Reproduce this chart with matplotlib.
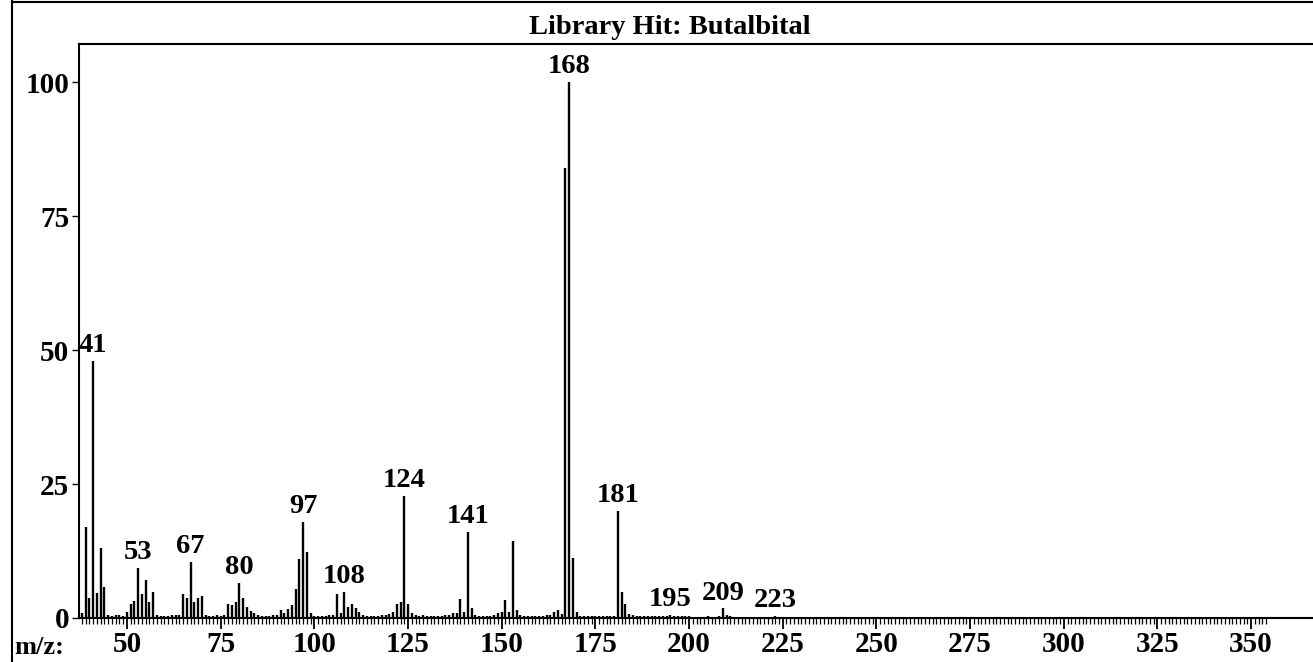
import matplotlib
matplotlib.use("Agg")
import matplotlib.pyplot as plt
from matplotlib.ticker import FixedLocator
from matplotlib.lines import Line2D

title = "Library Hit: Butalbital"
x_label = "m/z:"

mz = [38, 39, 40, 41, 42, 43, 44, 45, 46, 47, 48, 49,
      50, 51, 52, 53, 54, 55, 56, 57, 58, 59, 60, 61, 62, 63, 64,
      65, 66, 67, 68, 69, 70, 71, 72, 73, 74, 75, 76,
      77, 78, 79, 80, 81, 82, 83, 84, 85, 86, 87, 88, 89, 90,
      91, 92, 93, 94, 95, 96, 97, 98, 99, 100, 101, 102, 103, 104, 105,
      106, 107, 108, 109, 110, 111, 112, 113, 114, 115, 116, 117, 118, 119,
      120, 121, 122, 123, 124, 125, 126, 127, 128, 129, 130, 131, 132, 133,
      134, 135, 136, 137, 138, 139, 140, 141, 142, 143, 144, 145, 146, 147,
      148, 149, 150, 151, 152, 153, 154, 155, 156, 157, 158, 159, 160, 161,
      162, 163, 164, 165, 166, 167, 168, 169, 170, 171, 172, 173, 174, 175,
      176, 177, 178, 179, 180, 181, 182, 183, 184, 185, 186, 187, 188, 189,
      190, 191, 192, 193, 194, 195, 196, 197, 198, 199, 200, 205, 208, 209,
      210, 211, 223]
intensity = [1.0, 17.0, 3.7, 48.0, 4.6, 13.0, 5.8, 0.6, 0.4, 0.5, 0.5, 0.4,
             1.1, 2.6, 3.2, 9.3, 4.5, 7.0, 3.0, 4.8, 0.6, 0.4, 0.3, 0.4, 0.5, 0.6, 0.5,
             4.4, 3.7, 10.4, 3.0, 3.7, 4.1, 0.6, 0.4, 0.3, 0.5, 0.4, 0.6,
             2.6, 2.4, 3.0, 6.5, 3.7, 2.1, 1.3, 1.0, 0.6, 0.4, 0.3, 0.4, 0.5, 0.5,
             1.5, 1.0, 1.6, 2.4, 5.4, 11.0, 18.0, 12.4, 1.0, 0.4, 0.3, 0.3, 0.4, 0.5, 0.6,
             4.4, 1.0, 4.8, 2.1, 2.7, 1.8, 1.2, 0.5, 0.4, 0.4, 0.3, 0.4, 0.5, 0.6,
             0.8, 1.1, 2.7, 3.0, 22.8, 2.7, 0.9, 0.5, 0.4, 0.6, 0.4, 0.3, 0.3, 0.4,
             0.4, 0.5, 0.6, 1.0, 1.0, 3.5, 1.2, 16.1, 1.8, 0.5, 0.4, 0.3, 0.3, 0.4,
             0.6, 1.0, 1.2, 3.4, 1.2, 14.4, 1.4, 0.6, 0.4, 0.3, 0.3, 0.4, 0.3, 0.4,
             0.6, 0.5, 1.2, 1.5, 0.8, 84.0, 100.0, 11.2, 1.2, 0.4, 0.3, 0.3, 0.4, 0.3,
             0.3, 0.4, 0.3, 0.3, 0.4, 20.0, 4.8, 2.7, 0.8, 0.5, 0.3, 0.3, 0.4, 0.3,
             0.3, 0.3, 0.4, 0.3, 0.3, 0.6, 0.3, 0.3, 0.3, 0.3, 0.3, 0.3, 0.4, 1.8,
             0.5, 0.3, 0.4]
labeled_peaks = [41, 53, 67, 80, 97, 108, 124, 141, 168, 181, 195, 209, 223]
x_ticks = [50, 75, 100, 125, 150, 175, 200, 225, 250, 275, 300, 325, 350]
y_ticks = [0, 25, 50, 75, 100]

W, H = 1313, 662
font = dict(family="Liberation Serif", weight="bold")

fig = plt.figure(figsize=(W / 100, H / 100), dpi=100)
ax = fig.add_axes([79 / W, 1 - 618 / H, 1 - 79 / W, (618 - 44) / H])
ax.set_xlim(37.2, 366.5)
ax.set_ylim(0, 107.1)

ax.vlines(mz, 0, intensity, colors="black", linewidth=1.7)

lookup = dict(zip(mz, intensity))
for p in labeled_peaks:
    ax.annotate(str(p), (p, lookup[p]), xytext=(0, 2), textcoords="offset points",
                ha="center", va="bottom", fontsize=20.5, **font)

for s in ["top", "left", "bottom"]:
    ax.spines[s].set_linewidth(1.5)
ax.spines["right"].set_visible(False)

ax.xaxis.set_major_locator(FixedLocator(x_ticks))
ax.xaxis.set_minor_locator(FixedLocator(list(range(38, 355))))
ax.yaxis.set_major_locator(FixedLocator(y_ticks))
ax.tick_params(axis="x", which="major", direction="out", length=8, width=1.3, pad=1,
               labelsize=21)
ax.tick_params(axis="x", which="minor", direction="out", length=4, width=0.9)
ax.tick_params(axis="y", which="major", direction="out", length=5, width=1.0, pad=2,
               labelsize=21)
for lab in ax.get_xticklabels() + ax.get_yticklabels():
    lab.set_fontfamily("Liberation Serif")
    lab.set_fontweight("bold")

fig.text(670 / W, 1 - 28 / H, title, ha="center", va="center", fontsize=20.5, **font)
fig.text(14 / W, 1 - 647 / H, x_label, ha="left", va="center", fontsize=19, **font)

fig.add_artist(Line2D([12 / W, 12 / W], [0, 1], transform=fig.transFigure,
                      color="black", linewidth=1.5))
fig.add_artist(Line2D([12 / W, 1], [1 - 1.5 / H, 1 - 1.5 / H], transform=fig.transFigure,
                      color="black", linewidth=1.5))

fig.savefig("out.png", dpi=100)
